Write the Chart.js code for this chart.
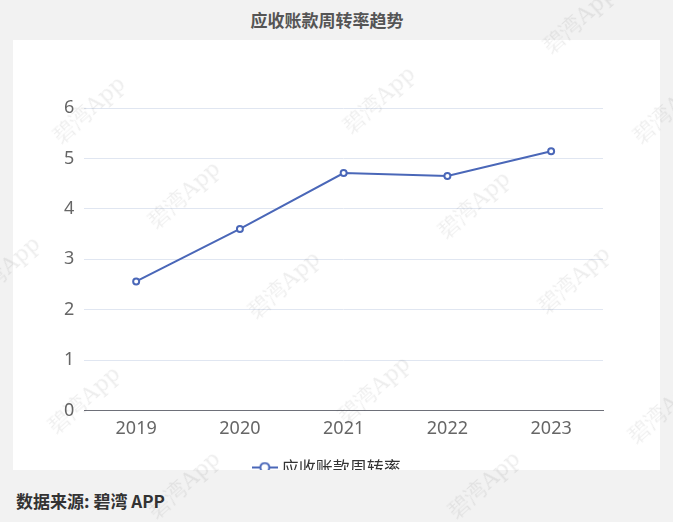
<!DOCTYPE html>
<html>
<head>
<meta charset="utf-8">
<script src="https://cdn.jsdelivr.net/npm/chart.js@4/dist/chart.umd.min.js"></script>
<style>
  body { margin: 0; background: #f2f2f2; width: 673px; height: 522px; position: relative; overflow: hidden;
         font-family: "Noto Sans CJK SC", "Noto Sans", sans-serif; }
  #title { position: absolute; left: 0; width: 654px; top: 7px; text-align: center; font-size: 17px; font-weight: bold; color: #555; }
  #panel { position: absolute; left: 13px; top: 40px; width: 647px; height: 430px; background: #fff; overflow: hidden; }
  #footer { position: absolute; left: 16px; top: 488px; font-size: 17px; font-weight: bold; color: #333; }
  .wm { position: absolute; font-family: "DejaVu Serif", serif; font-size: 22px; color: rgba(0,0,0,0.07);
        transform: rotate(-42deg); white-space: nowrap; pointer-events: none; }
</style>
</head>
<body>
<div id="title">应收账款周转率趋势</div>
<div id="panel"><canvas id="chart" width="647" height="446"></canvas></div>
<div id="footer">数据来源: 碧湾 APP</div>
<script>
// dados
const anos = ['2019', '2020', '2021', '2022', '2023'];
const giro = [2.56, 3.60, 4.71, 4.65, 5.14];
const serieNome = '应收账款周转率';
const corLinha = '#4a67b8';

// marca d'água
const marcas = [[45, 95], [335, 85], [535, 5], [625, 95], [140, 180], [430, 190], [-40, 255], [240, 270], [530, 265],
                [40, 385], [330, 375], [620, 395], [140, 470], [440, 470]];
marcas.forEach(([x, y]) => {
    const d = document.createElement('div');
    d.className = 'wm';
    d.textContent = '碧湾App';
    d.style.left = x + 'px';
    d.style.top = y + 'px';
    document.body.appendChild(d);
});

// ícone da legenda: linha com círculo vazado
const icone = document.createElement('canvas');
icone.width = 26;
icone.height = 12;
const ic = icone.getContext('2d');
ic.strokeStyle = corLinha;
ic.lineWidth = 2;
ic.beginPath();
ic.moveTo(0, 6); ic.lineTo(26, 6);
ic.stroke();
ic.fillStyle = '#fff';
ic.beginPath();
ic.arc(13, 6, 4.5, 0, Math.PI * 2);
ic.fill();
ic.stroke();

const ctx = document.getElementById('chart').getContext('2d');
new Chart(ctx, {
    type: 'line',
    data: {
        labels: anos,
        datasets: [{
            label: serieNome,
            data: giro,
            borderColor: corLinha,
            backgroundColor: '#ffffff',
            borderWidth: 2,
            pointRadius: 3,
            pointBorderWidth: 2,
            pointBackgroundColor: '#ffffff',
            pointBorderColor: corLinha,
            tension: 0
        }]
    },
    options: {
        responsive: false,
        animation: false,
        layout: { padding: { top: 68, right: 57, left: 41, bottom: 0 } },
        plugins: {
            legend: {
                position: 'bottom',
                labels: {
                    usePointStyle: true,
                    color: '#333',
                    padding: 11,
                    font: { size: 17, family: '"Noto Sans CJK SC", sans-serif' },
                    generateLabels: (chart) => Chart.defaults.plugins.legend.labels.generateLabels(chart)
                        .map(l => Object.assign(l, { pointStyle: icone }))
                }
            },
            tooltip: { enabled: false }
        },
        scales: {
            x: {
                offset: true,
                grid: { display: false, drawTicks: false },
                border: { color: '#6e7079', width: 1 },
                ticks: { color: '#666', padding: 8, font: { size: 18, family: '"Noto Sans", sans-serif' } }
            },
            y: {
                min: 0,
                max: 6,
                ticks: { stepSize: 1, color: '#666', padding: 10, font: { size: 18, family: '"Noto Sans", sans-serif' } },
                grid: { color: '#e0e6f1', drawTicks: false },
                border: { display: false }
            }
        }
    }
});
</script>
</body>
</html>
